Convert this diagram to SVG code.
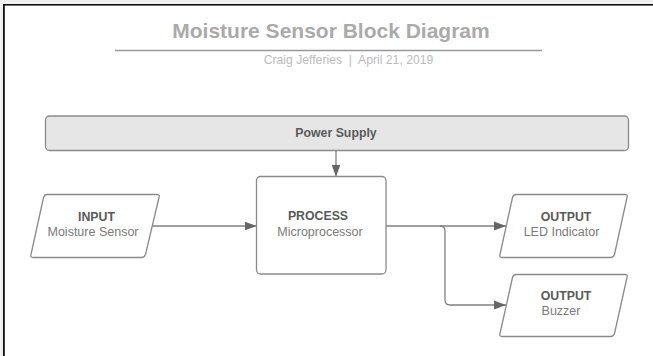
<svg xmlns="http://www.w3.org/2000/svg" width="653" height="356" viewBox="0 0 653 356">
  <defs>
    <marker id="arrow" markerWidth="12" markerHeight="10" refX="12" refY="5" orient="auto" markerUnits="userSpaceOnUse">
      <path d="M0,0.5 L12,5 L0,9.5 Z" fill="#666"/>
    </marker>
    <style>
      .box { fill: #fff; stroke: #8a8a8a; stroke-width: 1.3; }
      .psu { fill: #e6e6e6; stroke: #8a8a8a; stroke-width: 1.3; }
      .wire { fill: none; stroke: #808080; stroke-width: 1.3; }
      .head { font-family: "Liberation Sans", Arial, sans-serif; font-size: 12.3px; font-weight: bold; fill: #595959; text-anchor: middle; }
      .sub { font-family: "Liberation Sans", Arial, sans-serif; font-size: 12.5px; fill: #7a7a7a; text-anchor: middle; }
    </style>
  </defs>

  <!-- page frame -->
  <rect x="0" y="0" width="653" height="356" fill="#fff"/>
  <rect x="0" y="0" width="653" height="4" fill="#f0f0f0"/>
  <rect x="0" y="0" width="3" height="356" fill="#f0f0f0"/>
  <rect x="3" y="4" width="650" height="1.6" fill="#111"/>
  <rect x="3" y="4" width="1.8" height="352" fill="#111"/>

  <!-- title block -->
  <g id="title">
    <text x="331" y="38" font-family="Liberation Sans, Arial, sans-serif" font-size="21" font-weight="bold" fill="#aaa" text-anchor="middle">Moisture Sensor Block Diagram</text>
    <line x1="115" y1="50.5" x2="542" y2="50.5" stroke="#999" stroke-width="1.5"/>
    <text x="348.5" y="64" font-family="Liberation Sans, Arial, sans-serif" font-size="12.2" fill="#bbb" text-anchor="middle" xml:space="preserve">Craig Jefferies  |  April 21, 2019</text>
  </g>

  <!-- connectors -->
  <g id="connectors">
    <line class="wire" x1="336" y1="151" x2="336" y2="176.5" marker-end="url(#arrow)"/>
    <line class="wire" x1="151" y1="226" x2="256.5" y2="226" marker-end="url(#arrow)"/>
    <line class="wire" x1="386" y1="226" x2="506" y2="226" marker-end="url(#arrow)"/>
    <path class="wire" d="M440,226 Q445,226 445,231 L445,300 Q445,305 450,305 L506,305" marker-end="url(#arrow)"/>
  </g>

  <g id="power-supply">
    <rect class="psu" x="45.5" y="116" width="583" height="34.5" rx="4"/>
    <text class="head" x="336" y="137" font-size="12.7" fill="#666">Power Supply</text>
  </g>

  <g id="input">
    <path class="box" d="M47,194.5 L157,194.5 Q160,194.5 159,197.5 L145.5,254.5 Q144.5,257.5 141.5,257.5 L33,257.5 Q30,257.5 31,254.5 L43.5,197.5 Q44.5,194.5 47,194.5 Z"/>
    <text class="head" x="96.5" y="220.5">INPUT</text>
    <text class="sub" x="93" y="235.5">Moisture Sensor</text>
  </g>

  <g id="process">
    <rect class="box" x="256.5" y="176.5" width="129.5" height="97.5" rx="4"/>
    <text class="head" x="318" y="220">PROCESS</text>
    <text class="sub" x="320" y="235.5">Microprocessor</text>
  </g>

  <g id="output-led">
    <path class="box" d="M516,194.5 L625,194.5 Q628,194.5 627,197.5 L614.5,254.5 Q613.5,257.5 610.5,257.5 L502,257.5 Q499,257.5 500,254.5 L512.5,197.5 Q513.5,194.5 516,194.5 Z"/>
    <text class="head" x="566" y="220.5">OUTPUT</text>
    <text class="sub" x="561.5" y="235.5">LED Indicator</text>
  </g>

  <g id="output-buzzer">
    <path class="box" d="M516,274.5 L625,274.5 Q628,274.5 627,277.5 L614.5,333.5 Q613.5,336.5 610.5,336.5 L502,336.5 Q499,336.5 500,333.5 L512.5,277.5 Q513.5,274.5 516,274.5 Z"/>
    <text class="head" x="566" y="299.5">OUTPUT</text>
    <text class="sub" x="561" y="315">Buzzer</text>
  </g>
</svg>
